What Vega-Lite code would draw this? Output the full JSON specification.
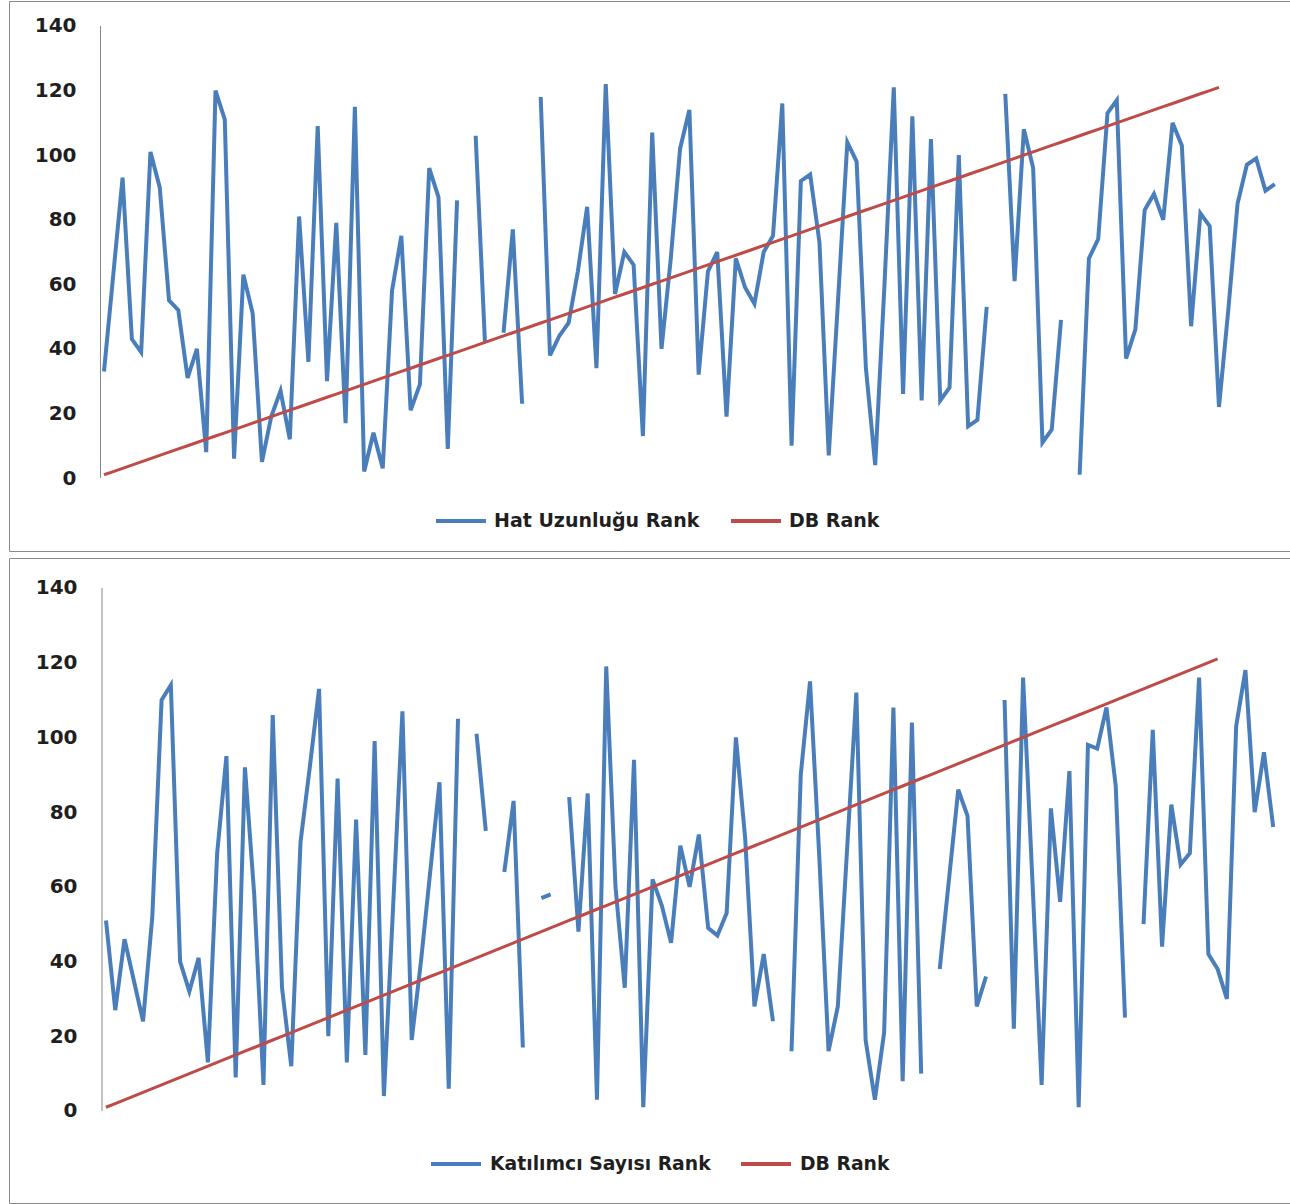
{
"$schema": "https://vega.github.io/schema/vega-lite/v6.json",
"padding": {"left": 8, "top": 0, "right": 0, "bottom": 0},
"background": "white",
"config": {
  "view": {"stroke": "#8a8a8a", "strokeWidth": 1},
  "concat": {"spacing": 5},
  "axis": {"labelFont": "DejaVu Sans", "labelFontWeight": "bold", "labelFontSize": 20, "labelColor": "#1f1f1f", "grid": false, "ticks": false, "tickSize": 0, "domain": false, "title": null, "labelPadding": 0},
  "legend": {"orient": "none", "direction": "horizontal", "symbolType": "stroke", "symbolSize": 2500, "symbolStrokeWidth": 4, "labelFont": "DejaVu Sans", "labelFontWeight": "bold", "labelFontSize": 19, "labelColor": "#1f1f1f", "labelLimit": 500, "title": null}
},
"datasets": {
"hat": [{"i":0,"v":33},{"i":1,"v":63},{"i":2,"v":93},{"i":3,"v":43},{"i":4,"v":39},{"i":5,"v":101},{"i":6,"v":90},{"i":7,"v":55},{"i":8,"v":52},{"i":9,"v":31},
{"i":10,"v":40},{"i":11,"v":8},{"i":12,"v":120},{"i":13,"v":111},{"i":14,"v":6},{"i":15,"v":63},{"i":16,"v":51},{"i":17,"v":5},{"i":18,"v":19},{"i":19,"v":27},
{"i":20,"v":12},{"i":21,"v":81},{"i":22,"v":36},{"i":23,"v":109},{"i":24,"v":30},{"i":25,"v":79},{"i":26,"v":17},{"i":27,"v":115},{"i":28,"v":2},{"i":29,"v":14},
{"i":30,"v":3},{"i":31,"v":58},{"i":32,"v":75},{"i":33,"v":21},{"i":34,"v":29},{"i":35,"v":96},{"i":36,"v":87},{"i":37,"v":9},{"i":38,"v":86},{"i":39,"v":null},
{"i":40,"v":106},{"i":41,"v":42},{"i":42,"v":null},{"i":43,"v":45},{"i":44,"v":77},{"i":45,"v":23},{"i":46,"v":null},{"i":47,"v":118},{"i":48,"v":38},{"i":49,"v":44},
{"i":50,"v":48},{"i":51,"v":64},{"i":52,"v":84},{"i":53,"v":34},{"i":54,"v":122},{"i":55,"v":57},{"i":56,"v":70},{"i":57,"v":66},{"i":58,"v":13},{"i":59,"v":107},
{"i":60,"v":40},{"i":61,"v":68},{"i":62,"v":102},{"i":63,"v":114},{"i":64,"v":32},{"i":65,"v":64},{"i":66,"v":70},{"i":67,"v":19},{"i":68,"v":68},{"i":69,"v":59},
{"i":70,"v":54},{"i":71,"v":70},{"i":72,"v":75},{"i":73,"v":116},{"i":74,"v":10},{"i":75,"v":92},{"i":76,"v":94},{"i":77,"v":73},{"i":78,"v":7},{"i":79,"v":55},
{"i":80,"v":104},{"i":81,"v":98},{"i":82,"v":34},{"i":83,"v":4},{"i":84,"v":60},{"i":85,"v":121},{"i":86,"v":26},{"i":87,"v":112},{"i":88,"v":24},{"i":89,"v":105},
{"i":90,"v":24},{"i":91,"v":28},{"i":92,"v":100},{"i":93,"v":16},{"i":94,"v":18},{"i":95,"v":53},{"i":96,"v":null},{"i":97,"v":119},{"i":98,"v":61},{"i":99,"v":108},
{"i":100,"v":96},{"i":101,"v":11},{"i":102,"v":15},{"i":103,"v":49},{"i":104,"v":null},{"i":105,"v":1},{"i":106,"v":68},{"i":107,"v":74},{"i":108,"v":113},{"i":109,"v":117},
{"i":110,"v":37},{"i":111,"v":46},{"i":112,"v":83},{"i":113,"v":88},{"i":114,"v":80},{"i":115,"v":110},{"i":116,"v":103},{"i":117,"v":47},{"i":118,"v":82},{"i":119,"v":78},
{"i":120,"v":22},{"i":121,"v":52},{"i":122,"v":85},{"i":123,"v":97},{"i":124,"v":99},{"i":125,"v":89},{"i":126,"v":91}],
"kat": [{"i":0,"v":51},{"i":1,"v":27},{"i":2,"v":46},{"i":3,"v":35},{"i":4,"v":24},{"i":5,"v":52},{"i":6,"v":110},{"i":7,"v":114},{"i":8,"v":40},{"i":9,"v":32},
{"i":10,"v":41},{"i":11,"v":13},{"i":12,"v":69},{"i":13,"v":95},{"i":14,"v":9},{"i":15,"v":92},{"i":16,"v":58},{"i":17,"v":7},{"i":18,"v":106},{"i":19,"v":33},
{"i":20,"v":12},{"i":21,"v":72},{"i":22,"v":92},{"i":23,"v":113},{"i":24,"v":20},{"i":25,"v":89},{"i":26,"v":13},{"i":27,"v":78},{"i":28,"v":15},{"i":29,"v":99},
{"i":30,"v":4},{"i":31,"v":55},{"i":32,"v":107},{"i":33,"v":19},{"i":34,"v":40},{"i":35,"v":64},{"i":36,"v":88},{"i":37,"v":6},{"i":38,"v":105},{"i":39,"v":null},
{"i":40,"v":101},{"i":41,"v":75},{"i":42,"v":null},{"i":43,"v":64},{"i":44,"v":83},{"i":45,"v":17},{"i":46,"v":null},{"i":47,"v":57},{"i":48,"v":58},{"i":49,"v":null},
{"i":50,"v":84},{"i":51,"v":48},{"i":52,"v":85},{"i":53,"v":3},{"i":54,"v":119},{"i":55,"v":60},{"i":56,"v":33},{"i":57,"v":94},{"i":58,"v":1},{"i":59,"v":62},
{"i":60,"v":55},{"i":61,"v":45},{"i":62,"v":71},{"i":63,"v":60},{"i":64,"v":74},{"i":65,"v":49},{"i":66,"v":47},{"i":67,"v":53},{"i":68,"v":100},{"i":69,"v":73},
{"i":70,"v":28},{"i":71,"v":42},{"i":72,"v":24},{"i":73,"v":null},{"i":74,"v":16},{"i":75,"v":90},{"i":76,"v":115},{"i":77,"v":68},{"i":78,"v":16},{"i":79,"v":28},
{"i":80,"v":70},{"i":81,"v":112},{"i":82,"v":19},{"i":83,"v":3},{"i":84,"v":21},{"i":85,"v":108},{"i":86,"v":8},{"i":87,"v":104},{"i":88,"v":10},{"i":89,"v":null},
{"i":90,"v":38},{"i":91,"v":62},{"i":92,"v":86},{"i":93,"v":79},{"i":94,"v":28},{"i":95,"v":36},{"i":96,"v":null},{"i":97,"v":110},{"i":98,"v":22},{"i":99,"v":116},
{"i":100,"v":62},{"i":101,"v":7},{"i":102,"v":81},{"i":103,"v":56},{"i":104,"v":91},{"i":105,"v":1},{"i":106,"v":98},{"i":107,"v":97},{"i":108,"v":108},{"i":109,"v":87},
{"i":110,"v":25},{"i":111,"v":null},{"i":112,"v":50},{"i":113,"v":102},{"i":114,"v":44},{"i":115,"v":82},{"i":116,"v":66},{"i":117,"v":69},{"i":118,"v":116},{"i":119,"v":42},
{"i":120,"v":38},{"i":121,"v":30},{"i":122,"v":103},{"i":123,"v":118},{"i":124,"v":80},{"i":125,"v":96},{"i":126,"v":76}],
"db": [{"i":0,"v":1},{"i":1,"v":2},{"i":2,"v":3},{"i":3,"v":4},{"i":4,"v":5},{"i":5,"v":6},{"i":6,"v":7},{"i":7,"v":8},{"i":8,"v":9},{"i":9,"v":10},
{"i":10,"v":11},{"i":11,"v":12},{"i":12,"v":13},{"i":13,"v":14},{"i":14,"v":15},{"i":15,"v":16},{"i":16,"v":17},{"i":17,"v":18},{"i":18,"v":19},{"i":19,"v":20},
{"i":20,"v":21},{"i":21,"v":22},{"i":22,"v":23},{"i":23,"v":24},{"i":24,"v":25},{"i":25,"v":26},{"i":26,"v":27},{"i":27,"v":28},{"i":28,"v":29},{"i":29,"v":30},
{"i":30,"v":31},{"i":31,"v":32},{"i":32,"v":33},{"i":33,"v":34},{"i":34,"v":35},{"i":35,"v":36},{"i":36,"v":37},{"i":37,"v":38},{"i":38,"v":39},{"i":39,"v":40},
{"i":40,"v":41},{"i":41,"v":42},{"i":42,"v":43},{"i":43,"v":44},{"i":44,"v":45},{"i":45,"v":46},{"i":46,"v":47},{"i":47,"v":48},{"i":48,"v":49},{"i":49,"v":50},
{"i":50,"v":51},{"i":51,"v":52},{"i":52,"v":53},{"i":53,"v":54},{"i":54,"v":55},{"i":55,"v":56},{"i":56,"v":57},{"i":57,"v":58},{"i":58,"v":59},{"i":59,"v":60},
{"i":60,"v":61},{"i":61,"v":62},{"i":62,"v":63},{"i":63,"v":64},{"i":64,"v":65},{"i":65,"v":66},{"i":66,"v":67},{"i":67,"v":68},{"i":68,"v":69},{"i":69,"v":70},
{"i":70,"v":71},{"i":71,"v":72},{"i":72,"v":73},{"i":73,"v":74},{"i":74,"v":75},{"i":75,"v":76},{"i":76,"v":77},{"i":77,"v":78},{"i":78,"v":79},{"i":79,"v":80},
{"i":80,"v":81},{"i":81,"v":82},{"i":82,"v":83},{"i":83,"v":84},{"i":84,"v":85},{"i":85,"v":86},{"i":86,"v":87},{"i":87,"v":88},{"i":88,"v":89},{"i":89,"v":90},
{"i":90,"v":91},{"i":91,"v":92},{"i":92,"v":93},{"i":93,"v":94},{"i":94,"v":95},{"i":95,"v":96},{"i":96,"v":97},{"i":97,"v":98},{"i":98,"v":99},{"i":99,"v":100},
{"i":100,"v":101},{"i":101,"v":102},{"i":102,"v":103},{"i":103,"v":104},{"i":104,"v":105},{"i":105,"v":106},{"i":106,"v":107},{"i":107,"v":108},{"i":108,"v":109},{"i":109,"v":110},
{"i":110,"v":111},{"i":111,"v":112},{"i":112,"v":113},{"i":113,"v":114},{"i":114,"v":115},{"i":115,"v":116},{"i":116,"v":117},{"i":117,"v":118},{"i":118,"v":119},{"i":119,"v":120},
{"i":120,"v":121}]
},
"resolve": {"scale": {"x": "independent", "y": "independent", "color": "independent"}, "legend": {"color": "independent"}},
"vconcat": [
{
  "width": 1282, "height": 550,
  "layer": [
    {
      "data": {"values": [{}]},
      "mark": {"type": "rule", "color": "#868686", "strokeWidth": 1},
      "encoding": {
        "x": {"datum": -0.38, "type": "quantitative"},
        "y": {"datum": 0, "type": "quantitative"},
        "y2": {"datum": 140}
      }
    },
    {
      "data": {"name": "hat"},
      "mark": {"type": "line", "strokeWidth": 4},
      "encoding": {
        "x": {"field": "i", "type": "quantitative", "scale": {"domain": [-10.224, 127.75], "nice": false, "zero": false}, "axis": null},
        "y": {"field": "v", "type": "quantitative", "scale": {"domain": [-22.61, 147.74], "nice": false, "zero": false}, "axis": {"values": [0,20,40,60,80,100,120,140], "offset": -67}},
        "color": {"datum": "Hat Uzunluğu Rank", "type": "nominal", "scale": {"domain": ["Hat Uzunluğu Rank", "DB Rank"], "range": ["#4A7EBB", "#BE4B48"]}, "legend": {"legendX": 425, "legendY": 493, "labelOffset": 6, "columnPadding": 23}}
      }
    },
    {
      "data": {"name": "db"},
      "mark": {"type": "line", "strokeWidth": 3},
      "encoding": {
        "x": {"field": "i", "type": "quantitative"},
        "y": {"field": "v", "type": "quantitative"},
        "color": {"datum": "DB Rank", "type": "nominal"}
      }
    }
  ]
},
{
  "width": 1282, "height": 645,
  "layer": [
    {
      "data": {"values": [{}]},
      "mark": {"type": "rule", "color": "#868686", "strokeWidth": 1},
      "encoding": {
        "x": {"datum": -0.43, "type": "quantitative"},
        "y": {"datum": 0, "type": "quantitative"},
        "y2": {"datum": 140}
      }
    },
    {
      "data": {"name": "kat"},
      "mark": {"type": "line", "strokeWidth": 4},
      "encoding": {
        "x": {"field": "i", "type": "quantitative", "scale": {"domain": [-10.47, 127.92], "nice": false, "zero": false}, "axis": null},
        "y": {"field": "v", "type": "quantitative", "scale": {"domain": [-24.63, 148.03], "nice": false, "zero": false}, "axis": {"values": [0,20,40,60,80,100,120,140], "offset": -68}},
        "color": {"datum": "Katılımcı Sayısı Rank", "type": "nominal", "scale": {"domain": ["Katılımcı Sayısı Rank", "DB Rank"], "range": ["#4A7EBB", "#BE4B48"]}, "legend": {"legendX": 420, "legendY": 579, "labelOffset": 7, "columnPadding": 22, "labelFontSize": 18.8}}
      }
    },
    {
      "data": {"name": "db"},
      "mark": {"type": "line", "strokeWidth": 3},
      "encoding": {
        "x": {"field": "i", "type": "quantitative"},
        "y": {"field": "v", "type": "quantitative"},
        "color": {"datum": "DB Rank", "type": "nominal"}
      }
    }
  ]
}
]
}
